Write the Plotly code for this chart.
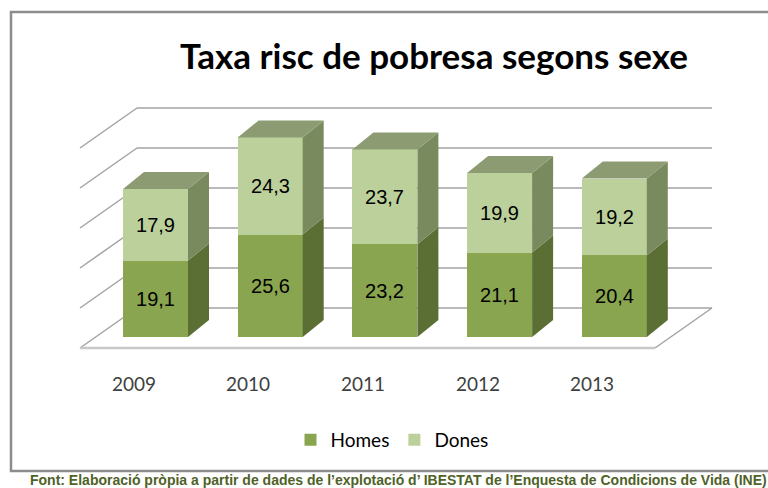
import plotly.graph_objects as go

# ---- data ----
years = ["2009", "2010", "2011", "2012", "2013"]
homes = [19.1, 25.6, 23.2, 21.1, 20.4]
dones = [17.9, 24.3, 23.7, 19.9, 19.2]
grid_values = [0, 10, 20, 30, 40, 50]
series_names = ["Homes", "Dones"]

# ---- style / geometry (pixels of a 768x488 canvas) ----
W, H = 768, 488
PX_PER_CAT = 114.7
PX_PER_UNIT = 4.0
CAT0_PX = 155.5
BASE_PX = 337.0

col_homes = "#8aa54f"
col_homes_side = "#5b6e33"
col_dones = "#bbd09a"
col_dones_side = "#7a8a5f"
col_top = "#8d9b72"
grid_col = "#a3a3a3"

bar_w = 65 / PX_PER_CAT
bar_dx, bar_dy = 21 / PX_PER_CAT, 17 / PX_PER_UNIT          # bar depth
floor_dx, floor_dy = 57 / PX_PER_CAT, 40 / PX_PER_UNIT      # full floor depth
floor_front_y = -11 / PX_PER_UNIT
floor_left = (80 - CAT0_PX) / PX_PER_CAT
floor_right = (655 - CAT0_PX) / PX_PER_CAT

xrange = [-CAT0_PX / PX_PER_CAT, (W - CAT0_PX) / PX_PER_CAT]
yrange = [(BASE_PX - H) / PX_PER_UNIT, BASE_PX / PX_PER_UNIT]

def px(x):
    return x / W

def py(y):
    return 1 - y / H

xs = list(range(len(years)))
fig = go.Figure()

def fmt(v):
    return f"{v:.1f}".replace(".", ",")

label_font = dict(family="Liberation Sans, Arial", size=20, color="black")

# front faces (stacked bars)
fig.add_trace(go.Bar(x=xs, y=homes, width=bar_w, name=series_names[0],
                     marker=dict(color=col_homes, line=dict(width=0)),
                     text=[fmt(v) for v in homes], textposition="inside",
                     insidetextanchor="middle", textangle=0, textfont=label_font,
                     hoverinfo="skip"))
fig.add_trace(go.Bar(x=xs, y=dones, width=bar_w, name=series_names[1],
                     marker=dict(color=col_dones, line=dict(width=0)),
                     text=[fmt(v) for v in dones], textposition="inside",
                     insidetextanchor="middle", textangle=0, textfont=label_font,
                     hoverinfo="skip"))

# side & top faces computed from the data
def poly(xp, yp, color):
    fig.add_trace(go.Scatter(x=xp + [xp[0]], y=yp + [yp[0]], fill="toself",
                             fillcolor=color, mode="lines", line=dict(width=0, color=color),
                             showlegend=False, hoverinfo="skip"))

for i, (h, d) in enumerate(zip(homes, dones)):
    xr = i + bar_w / 2
    xl = i - bar_w / 2
    poly([xr, xr + bar_dx, xr + bar_dx, xr], [0, bar_dy, h + bar_dy, h], col_homes_side)
    poly([xr, xr + bar_dx, xr + bar_dx, xr], [h, h + bar_dy, h + d + bar_dy, h + d], col_dones_side)
    t = h + d
    poly([xl, xr, xr + bar_dx, xl + bar_dx], [t, t, t + bar_dy, t + bar_dy], col_top)

# back wall gridlines, side-wall diagonals and floor (below the bars)
shapes = []
for g in grid_values:
    yb = floor_front_y + floor_dy + g
    shapes.append(dict(type="line", xref="x", yref="y", layer="below",
                       x0=floor_left + floor_dx, x1=floor_right + floor_dx, y0=yb, y1=yb,
                       line=dict(color=grid_col, width=1.5)))
    shapes.append(dict(type="line", xref="x", yref="y", layer="below",
                       x0=floor_left, x1=floor_left + floor_dx,
                       y0=floor_front_y + g, y1=yb,
                       line=dict(color=grid_col, width=1.5)))
shapes.append(dict(type="line", xref="x", yref="y", layer="below",
                   x0=floor_left, x1=floor_right, y0=floor_front_y, y1=floor_front_y,
                   line=dict(color="#c8c8c8", width=2.5)))
shapes.append(dict(type="line", xref="x", yref="y", layer="below",
                   x0=floor_right, x1=floor_right + floor_dx,
                   y0=floor_front_y, y1=floor_front_y + floor_dy,
                   line=dict(color=grid_col, width=1.5)))
# chart frame
shapes.append(dict(type="rect", xref="paper", yref="paper",
                   x0=px(11), x1=px(780), y0=py(471), y1=py(12),
                   line=dict(color="#8c8c8c", width=2.5)))

annotations = []
# category labels at floor front
for i, yr in enumerate(years):
    annotations.append(dict(x=i - 22 / PX_PER_CAT, y=(BASE_PX - 383) / PX_PER_UNIT,
                            xref="x", yref="y", text=yr, showarrow=False,
                            xanchor="center", yanchor="middle",
                            font=dict(family="Lato", size=19, color="#404040")))
annotations.append(dict(x=px(434), y=py(55), xref="paper", yref="paper",
                        xanchor="center", yanchor="middle",
                        text="<b>Taxa risc de pobresa segons sexe</b>", showarrow=False,
                        font=dict(family="Lato", size=35, color="black")))
annotations.append(dict(x=px(398), y=py(480), xref="paper", yref="paper",
                        xanchor="center", yanchor="middle",
                        text="<b>Font: Elaboració pròpia a partir de dades de l’explotació d’ IBESTAT de l’Enquesta de Condicions de Vida (INE)</b>",
                        showarrow=False,
                        font=dict(family="Liberation Sans, Arial", size=14, color="#4f6228")))

fig.update_layout(
    width=W, height=H, margin=dict(l=0, r=0, t=0, b=0),
    paper_bgcolor="white", plot_bgcolor="white",
    barmode="stack", bargap=0,
    xaxis=dict(range=xrange, visible=False, fixedrange=True),
    yaxis=dict(range=yrange, visible=False, fixedrange=True),
    shapes=shapes, annotations=annotations,
    showlegend=True,
    legend=dict(orientation="h", x=px(392), xanchor="center", y=py(440), yanchor="middle",
                font=dict(family="Lato", size=19, color="black"), traceorder="normal",
                bgcolor="rgba(0,0,0,0)"),
)

fig.write_html("out.html", config={"displayModeBar": False},
               post_script="document.body.style.margin='0';")
